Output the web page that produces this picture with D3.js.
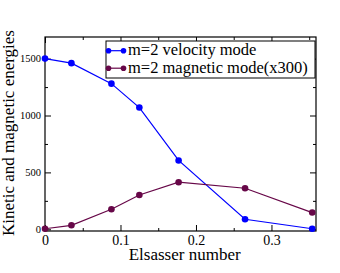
<!DOCTYPE html>
<html>
<head>
<meta charset="utf-8">
<script src="https://cdn.jsdelivr.net/npm/d3@7"></script>
<style>
  body { margin: 0; background: #fff; }
  svg text { font-family: "Liberation Serif", serif !important; }
</style>
</head>
<body>
<div id="chart"></div>
<script>
// Data
var elsasser = [0, 0.035, 0.088, 0.125, 0.177, 0.265, 0.354];
var velocity = [1500, 1460, 1280, 1070, 605, 88, 5];
var magnetic = [5, 35, 176, 302, 414, 361, 147];
var seriesNames = ["m=2 velocity mode", "m=2 magnetic mode(x300)"];
var seriesColors = ["#0000ff", "#670748"];
var xTicks = [0, 0.1, 0.2, 0.3];
var yTicks = [0, 500, 1000, 1500];

var W = 340, H = 273;
var margin = { top: 37, right: 24, bottom: 42, left: 45 };
var width = W - margin.left - margin.right,
  height = H - margin.top - margin.bottom;

var svg = d3.select("#chart").append("svg")
  .attr("width", W).attr("height", H);

var g = svg.append("g")
  .attr("transform", "translate(" + margin.left + "," + margin.top + ")");

var x = d3.scaleLinear().domain([0, 0.359]).range([0, width]);
var y = d3.scaleLinear().domain([-15, 1690]).range([height, 0]);

// Inward ticks on all four sides
function tickFmtX(d) { return d === 0 ? "0" : d3.format(".1f")(d); }

function labelStyle(a, size) {
  a.selectAll("text")
    .style("font-size", size)
    .attr("fill", "#000");
}

g.append("g")
  .attr("transform", "translate(0," + height + ")")
  .call(d3.axisBottom(x).tickValues(xTicks).tickSize(-6).tickPadding(4).tickFormat(tickFmtX))
  .call(labelStyle, "14px");
g.append("g")
  .attr("transform", "translate(0," + height + ")")
  .call(d3.axisBottom(x).tickValues([0.05, 0.15, 0.25, 0.35]).tickSize(-3).tickFormat(""));
g.append("g")
  .call(d3.axisTop(x).tickValues(xTicks).tickSize(-6).tickFormat(""));
g.append("g")
  .call(d3.axisTop(x).tickValues([0.05, 0.15, 0.25, 0.35]).tickSize(-3).tickFormat(""));

g.append("g")
  .call(d3.axisLeft(y).tickValues(yTicks).tickSize(-6).tickPadding(4).tickFormat(d3.format("d")))
  .call(labelStyle, "10.5px");
g.append("g")
  .call(d3.axisLeft(y).tickValues([250, 750, 1250]).tickSize(-3).tickFormat(""));
g.append("g")
  .attr("transform", "translate(" + width + ",0)")
  .call(d3.axisRight(y).tickValues(yTicks).tickSize(-6).tickFormat(""));
g.append("g")
  .attr("transform", "translate(" + width + ",0)")
  .call(d3.axisRight(y).tickValues([250, 750, 1250]).tickSize(-3).tickFormat(""));

g.selectAll(".domain").remove();
g.selectAll(".tick line").attr("stroke", "#000");

// Frame
g.append("rect")
  .attr("width", width).attr("height", height)
  .attr("fill", "none").attr("stroke", "#000").attr("stroke-width", 1.2);

// Series
var series = [velocity, magnetic];
var line = d3.line()
  .x(function (d, i) { return x(elsasser[i]); })
  .y(function (d) { return y(d); });

series.forEach(function (s, k) {
  g.append("path")
    .datum(s)
    .attr("d", line)
    .attr("fill", "none")
    .attr("stroke", seriesColors[k])
    .attr("stroke-width", 1.2);
  g.selectAll(".dot" + k)
    .data(s)
    .enter()
    .append("circle")
    .attr("cx", function (d, i) { return x(elsasser[i]); })
    .attr("cy", function (d) { return y(d); })
    .attr("r", 3.3)
    .attr("fill", seriesColors[k]);
});

// Legend
var lg = svg.append("g").attr("transform", "translate(106,41)");
lg.append("rect")
  .attr("width", 209).attr("height", 37)
  .attr("fill", "#fff").attr("stroke", "#000").attr("stroke-width", 1);
seriesNames.forEach(function (name, k) {
  var yy = 9.7 + k * 17.5;
  lg.append("line")
    .attr("x1", 2.5).attr("x2", 17.5).attr("y1", yy).attr("y2", yy)
    .attr("stroke", seriesColors[k]).attr("stroke-width", 1.2);
  lg.selectAll(".ld" + k).data([2.5, 17.5]).enter().append("circle")
    .attr("cx", function (d) { return d; }).attr("cy", yy).attr("r", 2.8)
    .attr("fill", seriesColors[k]);
  lg.append("text")
    .attr("x", 22).attr("y", yy + 4.5)
    .style("font-size", "16.5px")
    .text(name);
});

// Axis titles
svg.append("text")
  .attr("x", margin.left + x(0.185)).attr("y", 260)
  .attr("text-anchor", "middle")
  .style("font-size", "17px")
  .text("Elsasser number");

svg.append("text")
  .attr("transform", "translate(14," + (margin.top + height / 2 - 1) + ") rotate(-90)")
  .attr("text-anchor", "middle")
  .style("font-size", "17px")
  .text("Kinetic and magnetic energies");
</script>
</body>
</html>
